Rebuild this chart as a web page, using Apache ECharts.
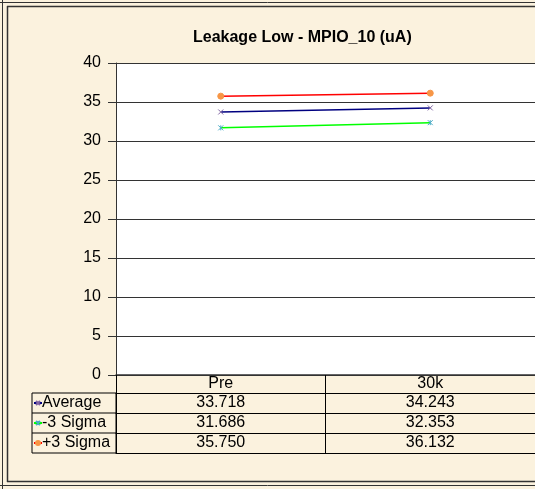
<!DOCTYPE html>
<html>
<head>
<meta charset="utf-8">
<script src="https://cdn.jsdelivr.net/npm/echarts@6/dist/echarts.min.js"></script>
<style>
  html, body { margin: 0; padding: 0; background: #fbf2de; }
  #chart { width: 535px; height: 489px; }
</style>
</head>
<body>
<div id="chart"></div>
<script>
const categories = ['Pre', '30k']
const seriesNames = ['Average', '-3 Sigma', '+3 Sigma']
const average = [33.718, 34.243]
const minus3Sigma = [31.686, 32.353]
const plus3Sigma = [35.750, 36.132]
const yTicks = { min: 0, max: 40, interval: 5 }

const font = 'Liberation Sans, Arial, sans-serif'
const values = [average, minus3Sigma, plus3Sigma]
const lineColors = ['#000080', '#00ff00', '#ff0000']
const markerColors = ['#8064a2', '#4bacc6', '#f79646']
const markers = [
  'path://M0,0L10,10M10,0L0,10',
  'path://M0,0L10,10M10,0L0,10M5,0L5,10',
  'circle'
]

const chart = echarts.init(document.getElementById('chart'))

// one extra x axis per table row, so the value cells line up with the categories
const rowAxes = values.map((vals, i) => ({
  type: 'category',
  data: vals.map(v => v.toFixed(3)),
  position: 'bottom',
  offset: 18 + i * 20,
  axisLine: { show: true, lineStyle: { color: '#000', width: 1 } },
  axisTick: { show: false },
  axisLabel: { color: '#000', fontSize: 16, fontFamily: font, margin: 0, lineHeight: 20 }
}))

const option = {
  backgroundColor: '#fbf2de',
  animation: false,
  title: {
    text: 'Leakage Low - MPIO_10 (uA)',
    left: 188,
    top: 25,
    textStyle: { fontSize: 16, fontWeight: 'bold', color: '#000', fontFamily: font }
  },
  legend: {
    orient: 'vertical',
    left: 33,
    top: 393,
    itemGap: 0,
    itemWidth: 8,
    itemHeight: 5,
    padding: 0,
    data: seriesNames,
    textStyle: { fontSize: 16, color: '#000', fontFamily: font, lineHeight: 20, padding: [0, 0, 0, -5] }
  },
  grid: {
    left: 116,
    right: -3,
    top: 63,
    bottom: 114,
    show: true,
    backgroundColor: '#fff',
    borderWidth: 0
  },
  xAxis: [
    {
      type: 'category',
      data: categories,
      position: 'bottom',
      axisLine: { show: true, lineStyle: { color: '#333', width: 1.5 } },
      axisTick: { show: true, interval: 0, length: 78, lineStyle: { color: '#000', width: 1 } },
      axisLabel: { color: '#000', fontSize: 16, fontFamily: font, margin: 0, lineHeight: 18 }
    },
    ...rowAxes,
    {
      type: 'category',
      data: categories,
      position: 'bottom',
      offset: 78,
      axisLine: { show: true, lineStyle: { color: '#000', width: 1 } },
      axisTick: { show: false },
      axisLabel: { show: false }
    }
  ],
  yAxis: {
    type: 'value',
    min: yTicks.min,
    max: yTicks.max,
    interval: yTicks.interval,
    axisLine: { show: true, lineStyle: { color: '#333', width: 1 } },
    axisTick: { show: true, length: 8, lineStyle: { color: '#333' } },
    axisLabel: { color: '#000', fontSize: 16, fontFamily: font, margin: 15 },
    splitLine: { show: true, lineStyle: { color: '#333', width: 1 } }
  },
  series: seriesNames.map((name, i) => ({
    name: name,
    type: 'line',
    data: values[i],
    symbol: markers[i],
    symbolSize: i === 2 ? 6 : 5,
    lineStyle: { color: lineColors[i], width: 1.5 },
    itemStyle: { color: markerColors[i], borderColor: markerColors[i], borderWidth: 1 }
  })),
  graphic: [
    // label column of the data table
    { type: 'rect', shape: { x: 32, y: 393, width: 84, height: 60 }, style: { fill: 'none', stroke: '#000', lineWidth: 1 }, silent: true },
    { type: 'line', shape: { x1: 32, y1: 413, x2: 116, y2: 413 }, style: { stroke: '#000', lineWidth: 1 }, silent: true },
    { type: 'line', shape: { x1: 32, y1: 433, x2: 116, y2: 433 }, style: { stroke: '#000', lineWidth: 1 }, silent: true },
    // outer frame lines
    { type: 'line', shape: { x1: 2.5, y1: 0, x2: 2.5, y2: 489 }, style: { stroke: '#333', lineWidth: 1 }, silent: true },
    { type: 'line', shape: { x1: 7.5, y1: 6, x2: 7.5, y2: 482 }, style: { stroke: '#333', lineWidth: 1.5 }, silent: true },
    { type: 'line', shape: { x1: 0, y1: 2.5, x2: 535, y2: 2.5 }, style: { stroke: '#333', lineWidth: 1 }, silent: true },
    { type: 'line', shape: { x1: 7, y1: 6.5, x2: 535, y2: 6.5 }, style: { stroke: '#333', lineWidth: 1.5 }, silent: true },
    { type: 'line', shape: { x1: 7, y1: 481.5, x2: 535, y2: 481.5 }, style: { stroke: '#333', lineWidth: 1.5 }, silent: true },
    { type: 'line', shape: { x1: 0, y1: 485.5, x2: 535, y2: 485.5 }, style: { stroke: '#333', lineWidth: 1 }, silent: true }
  ]
}

chart.setOption(option)
</script>
</body>
</html>
